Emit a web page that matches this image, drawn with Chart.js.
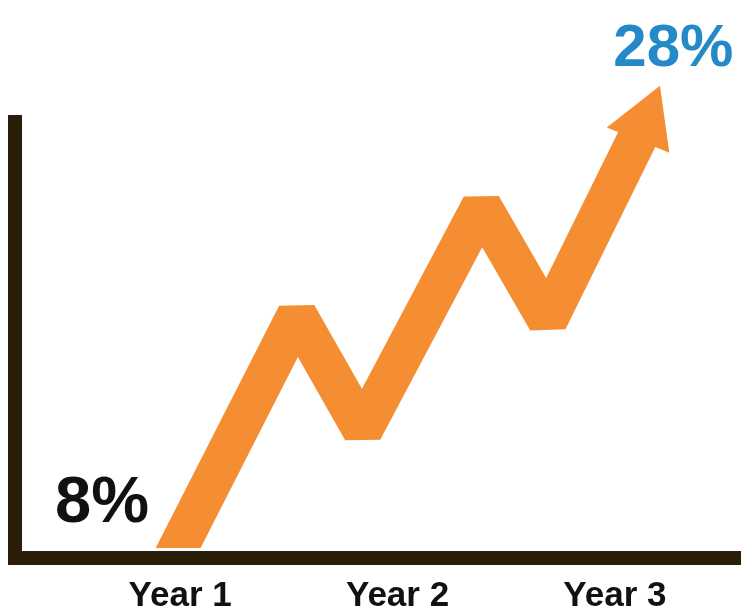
<!DOCTYPE html>
<html lang="en">
<head>
  <meta charset="UTF-8">
  <title>Growth Chart</title>
  <script src="https://cdn.jsdelivr.net/npm/chart.js"></script>
  <style>
    html, body { margin: 0; padding: 0; background: #fff; }
    canvas { display: block; }
  </style>
</head>
<body>
  <canvas id="growthChart" width="741" height="606"></canvas>
  <script>
    // Values (x in years, y in percent)
    const yearTicks = [1, 2, 3];
    const yearLabels = ['Year 1', 'Year 2', 'Year 3'];
    const xValues = [0.967, 1.537, 1.839, 2.386, 2.690, 3.14];
    const growthValues = [8, 19.15, 13.85, 24.15, 18.9, 28];
    const startLabel = '8%';
    const endLabel = '28%';

    const orange = '#f58d33';
    const axisColor = '#2a1e08';

    const lastIndex = growthValues.length - 1;
    const points = xValues.map((x, i) => ({ x: x, y: growthValues[i] }));

    // draws the 8% / 28% texts next to the first and last point
    const pointLabels = {
      id: 'pointLabels',
      afterDatasetsDraw(chart) {
        const pts = chart.getDatasetMeta(0).data;
        const ctx = chart.ctx;
        const first = pts[0];
        const last = pts[pts.length - 1];
        ctx.save();
        ctx.textAlign = 'center';
        ctx.textBaseline = 'alphabetic';
        ctx.font = 'bold 65px "Liberation Sans", Arial, sans-serif';
        ctx.fillStyle = '#111111';
        ctx.fillText(startLabel, first.x - 71, first.y - 36);
        ctx.font = 'bold 60px "Liberation Sans", Arial, sans-serif';
        ctx.fillStyle = '#238ac7';
        ctx.fillText(endLabel, last.x + 28, last.y - 56);
        ctx.restore();
      }
    };

    const ctx = document.getElementById('growthChart').getContext('2d');
    const chart = new Chart(ctx, {
      type: 'line',
      data: {
        datasets: [{
          data: points,
          borderColor: orange,
          borderWidth: 40,
          borderJoinStyle: 'bevel',
          borderCapStyle: 'butt',
          tension: 0,
          fill: false,
          pointStyle: 'triangle',
          pointRadius: growthValues.map((v, i) => i === lastIndex ? 39 : 0),
          pointHoverRadius: growthValues.map((v, i) => i === lastIndex ? 39 : 0),
          pointRotation: growthValues.map((v, i) => i === lastIndex ? 22 : 0),
          pointBackgroundColor: orange,
          pointBorderWidth: 0,
          clip: { left: 0, top: 200, right: 0, bottom: -10 }
        }]
      },
      options: {
        responsive: false,
        animation: false,
        devicePixelRatio: 1,
        layout: {
          autoPadding: false,
          padding: { top: 122, left: 15, right: 0, bottom: -29 }
        },
        plugins: {
          legend: { display: false },
          tooltip: { enabled: false }
        },
        scales: {
          x: {
            type: 'linear',
            min: 0.24,
            max: 3.58,
            afterBuildTicks: (scale) => {
              scale.ticks = yearTicks.map(v => ({ value: v }));
            },
            grid: { display: false, drawTicks: false },
            border: { display: true, color: axisColor, width: 14 },
            ticks: {
              padding: 21,
              color: '#111111',
              font: { family: '"Liberation Sans", Arial, sans-serif', size: 35, weight: 'bold', lineHeight: 1 },
              maxRotation: 0,
              autoSkip: false,
              callback: (value) => yearLabels[yearTicks.indexOf(value)]
            }
          },
          y: {
            min: 8,
            max: 28,
            grid: { display: false, drawTicks: false },
            border: { display: true, color: axisColor, width: 14 },
            ticks: { display: false }
          }
        }
      },
      plugins: [pointLabels]
    });
  </script>
</body>
</html>
